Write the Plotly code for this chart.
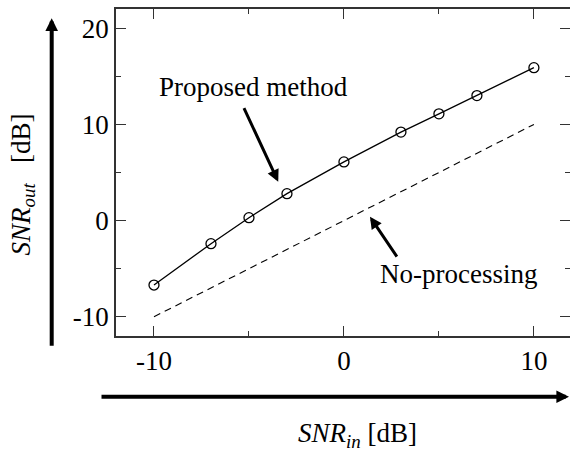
import plotly.graph_objects as go

# Data
snr_in = [-10, -7, -5, -3, 0, 3, 5, 7, 10]
proposed = [-6.7, -2.4, 0.3, 2.8, 6.1, 9.2, 11.1, 13.0, 15.9]
no_processing = [-10, -7, -5, -3, 0, 3, 5, 7, 10]

x_major = [-10, 0, 10]
x_major_text = ["-10", "0", "10"]
x_minor = [-5, 5]
y_major = [-10, 0, 10, 20]
y_major_text = ["-10", "0", "10", "20"]
y_minor = [-5, 5, 15]

FONT = "Liberation Serif, Times New Roman, serif"
FS = 27
W, H = 570, 450
L, R, T, B = 116, 0, 9, 114
PW = W - L - R
PH = H - T - B


def px_x(p):
    return (p - L) / PW


def px_y(p):
    return (H - B - p) / PH


fig = go.Figure()

fig.add_trace(go.Scatter(
    x=snr_in, y=no_processing, mode="lines",
    line=dict(color="black", width=1.1, dash="7px,5px"),
    showlegend=False, hoverinfo="skip"))

fig.add_trace(go.Scatter(
    x=snr_in, y=proposed, mode="lines+markers",
    line=dict(color="black", width=1.3),
    marker=dict(symbol="circle-open", size=10, color="black", line=dict(width=1.3)),
    showlegend=False, hoverinfo="skip"))

# invisible trace for right ticks axis
fig.add_trace(go.Scatter(x=[None], y=[None], yaxis="y2", showlegend=False))

axis_common = dict(
    showgrid=False, zeroline=False,
    ticks="inside", ticklen=10, tickwidth=1.3, tickcolor="#333",
    tickfont=dict(family=FONT, size=FS, color="black"),
)

fig.update_layout(
    width=W, height=H,
    margin=dict(l=L, r=R, t=T, b=B, pad=0),
    paper_bgcolor="white", plot_bgcolor="white",
    xaxis=dict(
        range=[-12, 11.9], tickmode="array", tickvals=x_major, ticktext=x_major_text,
        showline=True, linecolor="#333", linewidth=1.5, mirror="ticks",
        minor=dict(tickmode="array", tickvals=x_minor, ticks="inside", ticklen=5,
                   tickwidth=1.3, tickcolor="#333"),
        **axis_common),
    yaxis=dict(
        range=[-12, 22], tickmode="array", tickvals=y_major, ticktext=y_major_text,
        showline=True, linecolor="#333", linewidth=1.5, mirror=False,
        minor=dict(tickmode="array", tickvals=y_minor, ticks="inside", ticklen=5,
                   tickwidth=1.3, tickcolor="#333"),
        **axis_common),
    yaxis2=dict(
        range=[-12, 22], overlaying="y", side="right", showline=False,
        tickmode="array", tickvals=y_major, showticklabels=False,
        showgrid=False, zeroline=False,
        ticks="inside", ticklen=10, tickwidth=1.3, tickcolor="#333",
        minor=dict(tickmode="array", tickvals=y_minor, ticks="inside", ticklen=5,
                   tickwidth=1.3, tickcolor="#333")),
)

ann = []
# data annotations (arrows)
ann.append(dict(x=-3.46, y=4.04, xref="x", yref="y", ax=-5.3, ay=11.85,
                axref="x", ayref="y", text="", showarrow=True, arrowhead=2,
                arrowwidth=3, arrowsize=0.8, arrowcolor="black", standoff=0))
ann.append(dict(x=1.37, y=0.4, xref="x", yref="y", ax=2.84, ay=-3.9,
                axref="x", ayref="y", text="", showarrow=True, arrowhead=2,
                arrowwidth=3, arrowsize=0.8, arrowcolor="black", standoff=0))
ann.append(dict(x=-4.77, y=13.9, xref="x", yref="y", text="Proposed method",
                showarrow=False, font=dict(family=FONT, size=FS, color="black"),
                xanchor="center", yanchor="middle"))
ann.append(dict(x=6.02, y=-5.6, xref="x", yref="y", text="No-processing",
                showarrow=False, font=dict(family=FONT, size=FS, color="black"),
                xanchor="center", yanchor="middle"))

# axis arrows
ann.append(dict(x=px_x(51.7), y=px_y(18.3), xref="paper", yref="paper",
                ax=0, ay=329, axref="pixel", ayref="pixel", text="", showarrow=True,
                arrowhead=2, arrowwidth=4, arrowsize=0.63, arrowcolor="black", standoff=0))
ann.append(dict(x=px_x(570), y=px_y(396.7), xref="paper", yref="paper",
                ax=-470, ay=0, axref="pixel", ayref="pixel", text="", showarrow=True,
                arrowhead=2, arrowwidth=4, arrowsize=0.63, arrowcolor="black", standoff=0))

# axis titles
ann.append(dict(x=px_x(22), y=px_y(184.5), xref="paper", yref="paper",
                text="<i>SNR</i><sub><i>out</i></sub>   [dB]", textangle=-90,
                showarrow=False, font=dict(family=FONT, size=FS, color="black"),
                xanchor="center", yanchor="middle"))
ann.append(dict(x=px_x(357), y=px_y(435), xref="paper", yref="paper",
                text="<i>SNR</i><sub><i>in</i></sub> [dB]",
                showarrow=False, font=dict(family=FONT, size=FS, color="black"),
                xanchor="center", yanchor="middle"))

fig.update_layout(annotations=ann)

fig.write_html(
    "out.html",
    config={"displayModeBar": False},
    post_script="document.body.style.margin='0';document.body.style.overflow='hidden';",
)
